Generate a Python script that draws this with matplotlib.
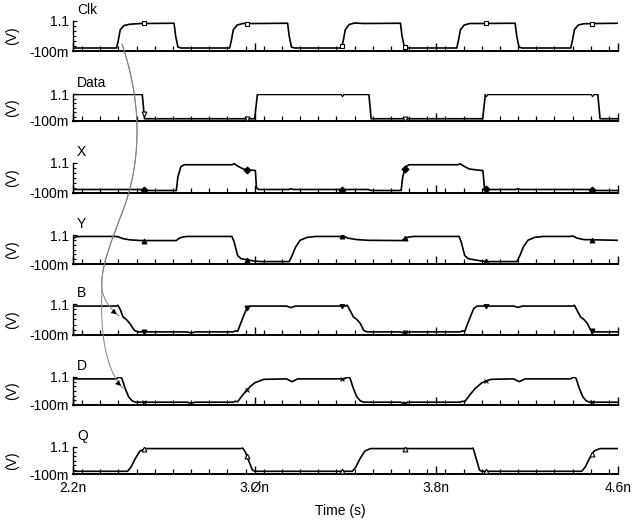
import numpy as np
import matplotlib.pyplot as plt
from matplotlib.path import Path
from matplotlib.patches import FancyArrowPatch
from matplotlib.ticker import MultipleLocator, FixedLocator

plt.rcParams['font.family'] = ['Liberation Sans', 'DejaVu Sans']

W, H = 634, 525

# waveform breakpoints (time in ns, value in V)
clk_t = [2.2, 2.392, 2.400, 2.408, 2.425, 2.45, 2.50, 2.645, 2.652, 2.662, 2.675,
         2.890, 2.898, 2.906, 2.923, 2.948, 3.00, 3.145, 3.152, 3.162, 3.175,
         3.383, 3.391, 3.399, 3.416, 3.44, 3.48, 3.642, 3.649, 3.659, 3.672,
         3.890, 3.898, 3.906, 3.923, 3.948, 4.00, 4.147, 4.154, 4.164, 4.177,
         4.392, 4.400, 4.408, 4.425, 4.45, 4.50, 4.6]
clk_v = [0.02, 0.02, 0.35, 0.75, 0.92, 0.97, 1.0, 1.01, 0.5, 0.06, 0.02,
         0.02, 0.35, 0.75, 0.94, 1.0, 1.0, 1.01, 0.5, 0.06, 0.02,
         0.02, 0.35, 0.75, 0.96, 1.02, 1.0, 1.01, 0.5, 0.06, 0.02,
         0.02, 0.35, 0.75, 0.94, 1.0, 1.0, 1.01, 0.5, 0.06, 0.02,
         0.02, 0.35, 0.75, 0.94, 0.99, 1.0, 1.01]

data_t = [2.2, 2.505, 2.515, 3.0, 3.012, 3.503, 3.513, 4.004, 4.016, 4.511, 4.521, 4.6]
data_v = [1.08, 1.08, 0.0, 0.0, 1.08, 1.08, 0.0, 0.0, 1.08, 1.08, 0.0, 0.0]

x_t = [2.2, 2.50, 2.515, 2.655, 2.662, 2.675, 2.69, 2.90, 2.91, 2.925, 2.95, 2.98, 3.003, 3.008, 3.018,
       3.15, 3.16, 3.17, 3.50, 3.515, 3.645, 3.652, 3.665, 3.68, 3.895, 3.905, 3.92, 3.945, 3.98, 4.005,
       4.012, 4.022, 4.15, 4.16, 4.17, 4.48, 4.495, 4.6]
x_v = [0.04, 0.04, 0.0, 0.0, 0.55, 0.95, 1.03, 1.03, 1.07, 0.98, 0.86, 0.82, 0.8, 0.1, 0.04,
       0.04, 0.07, 0.04, 0.04, 0.0, 0.0, 0.55, 0.95, 1.03, 1.03, 1.07, 0.98, 0.86, 0.82, 0.8,
       0.1, 0.04, 0.04, 0.07, 0.04, 0.04, 0.0, 0.0]

y_t = [2.2, 2.215, 2.24, 2.39, 2.40, 2.42, 2.45, 2.50, 2.655, 2.665, 2.68, 2.70, 2.90, 2.91, 2.925,
       2.94, 2.97, 3.0, 3.03, 3.152, 3.165, 3.18, 3.20, 3.23, 3.27, 3.385, 3.392, 3.41, 3.45, 3.50,
       3.65, 3.66, 3.675, 3.70, 3.90, 3.91, 3.925, 3.94, 3.97, 4.0, 4.03, 4.155, 4.168, 4.183, 4.203,
       4.233, 4.27, 4.39, 4.40, 4.42, 4.45, 4.6]
y_v = [0.95, 1.03, 1.04, 1.04, 1.02, 0.95, 0.9, 0.87, 0.87, 0.95, 1.01, 1.04, 1.04, 0.8, 0.25,
       0.12, 0.07, 0.02, 0.0, 0.0, 0.25, 0.6, 0.88, 1.0, 1.04, 1.04, 1.06, 0.97, 0.91, 0.88,
       0.87, 0.95, 1.01, 1.04, 1.04, 0.8, 0.25, 0.12, 0.07, 0.02, 0.0, 0.0, 0.25, 0.6, 0.88,
       1.0, 1.04, 1.04, 1.06, 0.97, 0.91, 0.88]

b_t = [2.2, 2.39, 2.398, 2.41, 2.42, 2.435, 2.45, 2.47, 2.485, 2.70, 2.72, 2.74, 2.905, 2.915, 2.925,
       2.945, 2.965, 2.98, 3.14, 3.16, 3.18, 3.40, 3.408, 3.42, 3.435, 3.45, 3.465, 3.48, 3.495,
       3.64, 3.66, 3.68, 3.905, 3.915, 3.925, 3.945, 3.965, 3.98, 4.14, 4.16, 4.18, 4.40, 4.408, 4.42,
       4.435, 4.45, 4.465, 4.48, 4.495, 4.6]
b_v = [1.02, 1.02, 1.05, 0.85, 0.6, 0.5, 0.35, 0.08, 0.02, 0.02, -0.02, 0.02, 0.02, 0.06, 0.04,
       0.5, 0.93, 1.02, 1.02, 0.96, 1.02, 1.02, 1.05, 0.85, 0.6, 0.5, 0.35, 0.08, 0.02,
       0.02, -0.03, 0.02, 0.02, 0.06, 0.04, 0.5, 0.93, 1.02, 1.02, 0.97, 1.02, 1.02, 1.05, 0.85,
       0.6, 0.5, 0.35, 0.08, 0.02, 0.02]

d_t = [2.2, 2.39, 2.405, 2.415, 2.43, 2.445, 2.46, 2.475, 2.70, 2.72, 2.74, 2.905, 2.915, 2.925,
       2.945, 2.97, 3.0, 3.04, 3.14, 3.165, 3.19, 3.395, 3.41, 3.42, 3.435, 3.45, 3.465, 3.48,
       3.64, 3.66, 3.68, 3.905, 3.915, 3.925, 3.945, 3.97, 4.0, 4.04, 4.14, 4.165, 4.19, 4.39, 4.405,
       4.415, 4.43, 4.445, 4.46, 4.475, 4.6]
d_v = [1.02, 1.02, 1.1, 1.05, 0.6, 0.25, 0.08, 0.02, 0.02, -0.02, 0.02, 0.02, 0.06, 0.04,
       0.3, 0.6, 0.85, 1.0, 1.02, 0.9, 1.02, 1.02, 1.1, 1.05, 0.6, 0.25, 0.08, 0.02,
       0.02, -0.03, 0.02, 0.02, 0.06, 0.04, 0.3, 0.6, 0.85, 1.0, 1.02, 0.9, 1.02, 1.02, 1.1,
       1.05, 0.6, 0.25, 0.08, 0.02, 0.02]

q_t = [2.2, 2.44, 2.455, 2.475, 2.495, 2.52, 2.94, 2.948, 2.96, 2.975, 2.99, 3.0, 3.43, 3.445,
       3.465, 3.485, 3.51, 3.955, 3.962, 3.975, 3.99, 4.0, 4.44, 4.455, 4.475, 4.495, 4.52, 4.6]
q_v = [0.02, 0.02, 0.2, 0.6, 0.92, 1.03, 1.03, 1.05, 0.85, 0.45, 0.08, 0.02, 0.02, 0.2,
       0.6, 0.92, 1.03, 1.03, 1.05, 0.6, 0.08, 0.02, 0.02, 0.2, 0.6, 0.92, 1.03, 1.03]

names = ["Clk", "Data", "X", "Y", "B", "D", "Q"]
series = [(clk_t, clk_v), (data_t, data_v), (x_t, x_v), (y_t, y_v), (b_t, b_v), (d_t, d_v), (q_t, q_v)]
marker_times = [2.513, 2.966, 3.385, 3.662, 4.019, 4.486]
marker_style = [('s', 'white'), ('v', 'white'), ('D', 'black'), ('^', 'black'),
                ('v', 'black'), ('x', 'black'), ('^', 'white')]

# panel top/bottom in pixels (1.1 V level / -100 mV level)
tops = [21, 94, 163, 235, 304, 377, 447]
bots = [51, 121, 193, 264, 335, 405, 474]
x_left, x_right = 73, 618

fig = plt.figure(figsize=(W / 100, H / 100), dpi=100)

for i, name in enumerate(names):
    ax = fig.add_axes([x_left / W, 1 - bots[i] / H, (x_right - x_left) / W, (bots[i] - tops[i]) / H])
    t, v = series[i]
    ax.plot(t, v, color='black', lw=1.2, zorder=3)
    mk, fc = marker_style[i]
    my = np.interp(marker_times, t, v)
    ax.plot(marker_times, my, ls='none', marker=mk, ms=3.5, mfc=fc, mec='black', mew=0.8, zorder=4)

    ax.set_xlim(2.2, 4.6)
    ax.set_ylim(-0.1, 1.1)
    for s in ['top', 'right']:
        ax.spines[s].set_visible(False)
    ax.spines['left'].set_linewidth(1.0)
    ax.spines['bottom'].set_linewidth(1.4)

    ax.xaxis.set_major_locator(FixedLocator([2.2, 3.0, 3.8, 4.6]))
    ax.xaxis.set_minor_locator(MultipleLocator(0.08))
    ax.tick_params(axis='x', which='major', direction='in', length=6, width=1.0)
    ax.tick_params(axis='x', which='minor', direction='in', length=3.5, width=0.9)
    ax.yaxis.set_major_locator(FixedLocator([-0.1, 1.1]))
    ax.yaxis.set_minor_locator(FixedLocator([0.1, 0.3, 0.5, 0.7, 0.9]))
    ax.tick_params(axis='y', which='major', direction='in', length=3, width=0.9, labelsize=10, pad=3)
    ax.tick_params(axis='y', which='minor', direction='in', length=2, width=0.8)
    ax.set_yticklabels(['-100m', '1.1'])
    if i == len(names) - 1:
        ax.set_xticklabels(['2.2n', '3.\u00d8n', '3.8n', '4.6n'])
        ax.tick_params(axis='x', labelsize=10, pad=5)
    else:
        ax.set_xticklabels([])
    ax.patch.set_alpha(0)

    fig.text(77 / W, 1 - (tops[i] - 11) / H, name, fontsize=10, ha='left', va='center')
    fig.text(12 / W, 1 - (tops[i] + bots[i]) / 2 / H, "(V)", fontsize=10, rotation=90,
             ha='center', va='center')

fig.text(340 / W, 1 - 511 / H, "Time (s)", fontsize=10, ha='center', va='center')


# curved annotation arrows from the Clk edge to B and D
def fp(x, y):
    return (x / W, 1 - y / H)


trunk = [fp(122, 44), fp(141, 100), fp(142, 155), fp(125, 205),
         fp(110, 245), fp(100, 268), fp(102, 290)]
to_b = trunk + [fp(104, 300), fp(110, 309), fp(119, 316)]
to_d = trunk + [fp(100, 330), fp(105, 370), fp(123, 388)]
codes = [Path.MOVETO] + [Path.CURVE4] * 9
for pts in (to_b, to_d):
    line = FancyArrowPatch(path=Path(pts, codes), transform=fig.transFigure,
                           arrowstyle='-', color='0.5', lw=0.7, zorder=10)
    fig.patches.append(line)
    head = FancyArrowPatch(posA=pts[-2], posB=pts[-1], transform=fig.transFigure,
                           arrowstyle='-|>,head_length=4,head_width=2',
                           color='black', lw=0.0, zorder=11)
    fig.patches.append(head)

fig.savefig('out.png', dpi=100)
